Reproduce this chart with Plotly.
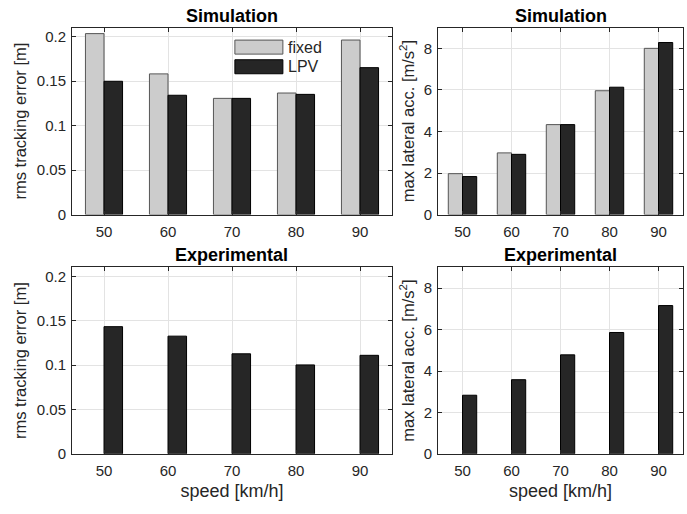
import plotly.graph_objects as go

speeds = ["50", "60", "70", "80", "90"]
sim_rms_fixed = [0.2032, 0.158, 0.1305, 0.1365, 0.196]
sim_rms_lpv = [0.1497, 0.134, 0.1305, 0.135, 0.165]
sim_acc_fixed = [1.97, 2.97, 4.33, 5.96, 8.0]
sim_acc_lpv = [1.83, 2.9, 4.33, 6.13, 8.28]
exp_rms_lpv = [0.1433, 0.1326, 0.1127, 0.1002, 0.111]
exp_acc_lpv = [2.83, 3.58, 4.78, 5.86, 7.16]
empty = [None] * 5
series_names = ["fixed", "LPV"]

W, H = 687, 514
FIXED_FILL, FIXED_LINE = "#cccccc", "#555555"
LPV_FILL, LPV_LINE = "#262626", "#000000"
FONT = "Liberation Sans, Arial, sans-serif"
TXT = "#262626"

fig = go.Figure()

panels = [
    ("x", "y", sim_rms_fixed, sim_rms_lpv),
    ("x2", "y2", sim_acc_fixed, sim_acc_lpv),
    ("x3", "y3", empty, exp_rms_lpv),
    ("x4", "y4", empty, exp_acc_lpv),
]
for xa, ya, fv, lv in panels:
    fig.add_trace(go.Bar(x=speeds, y=fv, name=series_names[0], xaxis=xa, yaxis=ya,
                         marker=dict(color=FIXED_FILL, line=dict(color=FIXED_LINE, width=1)),
                         showlegend=False))
    fig.add_trace(go.Bar(x=speeds, y=lv, name=series_names[1], xaxis=xa, yaxis=ya,
                         marker=dict(color=LPV_FILL, line=dict(color=LPV_LINE, width=1)),
                         showlegend=False))

def px_x(a, b):
    return [a / W, b / W]

def px_y(top, bottom):
    return [1 - bottom / H, 1 - top / H]

xdoms = {"left": px_x(72, 392), "right": px_x(438, 683)}
ydoms = {"top": px_y(28, 218), "bottom": px_y(271.7, 461)}

common_x = dict(type="category", range=[-0.5, 4.5], showline=True, linecolor=TXT, linewidth=1,
                mirror="ticks", ticks="inside", ticklen=4, tickcolor=TXT,
                showgrid=True, gridcolor="#e3e3e3", gridwidth=1, ticklabelstandoff=3,
                tickfont=dict(family=FONT, size=15, color=TXT), zeroline=False)
common_y = dict(showline=True, linecolor=TXT, linewidth=1, mirror="ticks", ticks="inside",
                ticklen=4, tickcolor=TXT, showgrid=True, gridcolor="#e3e3e3", gridwidth=1,
                ticklabelstandoff=2,
                tickfont=dict(family=FONT, size=15, color=TXT), zeroline=False)

xtitle = dict(text="speed [km/h]", font=dict(family=FONT, size=18, color=TXT), standoff=6)
ytitle_rms = dict(text="rms tracking error [m]", font=dict(family=FONT, size=16.5, color=TXT), standoff=6)
ytitle_acc = dict(text="max lateral acc. [m/s<sup>2</sup>]", font=dict(family=FONT, size=16.5, color=TXT), standoff=4)

rms_ticks = [0, 0.05, 0.1, 0.15, 0.2]
rms_text = ["0", "0.05", "0.1", "0.15", "0.2"]
acc_ticks = [0, 2, 4, 6, 8]

fig.update_layout(
    xaxis=dict(common_x, domain=xdoms["left"], anchor="y"),
    yaxis=dict(common_y, domain=ydoms["top"], anchor="x", range=[0, 0.21],
               tickvals=rms_ticks, ticktext=rms_text, title=ytitle_rms),
    xaxis2=dict(common_x, domain=xdoms["right"], anchor="y2"),
    yaxis2=dict(common_y, domain=ydoms["top"], anchor="x2", range=[0, 9],
                tickvals=acc_ticks, title=ytitle_acc),
    xaxis3=dict(common_x, domain=xdoms["left"], anchor="y3", title=xtitle),
    yaxis3=dict(common_y, domain=ydoms["bottom"], anchor="x3", range=[0, 0.21],
                tickvals=rms_ticks, ticktext=rms_text, title=ytitle_rms),
    xaxis4=dict(common_x, domain=xdoms["right"], anchor="y4", title=xtitle),
    yaxis4=dict(common_y, domain=ydoms["bottom"], anchor="x4", range=[0, 9],
                tickvals=acc_ticks, title=ytitle_acc),
    barmode="group", bargap=0.42, bargroupgap=0,
    width=W, height=H, margin=dict(l=0, r=0, t=0, b=0),
    paper_bgcolor="white", plot_bgcolor="white",
    font=dict(family=FONT, color=TXT),
    showlegend=False,
)

for xa, title in [("x", "Simulation"), ("x2", "Simulation"), ("x3", "Experimental"), ("x4", "Experimental")]:
    ya = "y" + xa[1:]
    fig.add_annotation(text="<b>" + title + "</b>", xref=xa + " domain", yref=ya + " domain",
                       x=0.5, y=1.0, xanchor="center", yanchor="bottom", yshift=0, showarrow=False,
                       font=dict(family=FONT, size=18, color="#000000"))

# legend (inside the top-left panel, MATLAB style with large patches)
legend_rows = [(series_names[0], FIXED_FILL, FIXED_LINE, 0.858, 0.933),
               (series_names[1], LPV_FILL, LPV_LINE, 0.753, 0.828)]
for name, fill, line, y0, y1 in legend_rows:
    fig.add_shape(type="rect", xref="x domain", yref="y domain",
                  x0=0.509, x1=0.659, y0=y0, y1=y1,
                  fillcolor=fill, line=dict(color=line, width=1), layer="above")
    fig.add_annotation(text=name, xref="x domain", yref="y domain",
                       x=0.668, y=(y0 + y1) / 2, xanchor="left", yanchor="middle",
                       showarrow=False, font=dict(family=FONT, size=16, color=TXT))

fig.write_html("out.html")
